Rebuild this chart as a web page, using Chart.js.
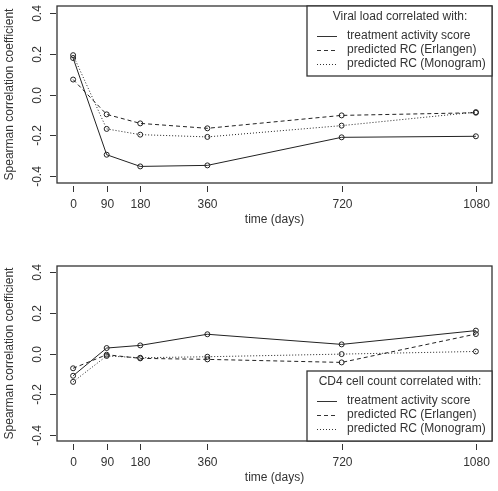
<!DOCTYPE html>
<html>
<head>
<meta charset="utf-8">
<script src="https://cdn.jsdelivr.net/npm/chart.js@4.4.1/dist/chart.umd.min.js"></script>
<style>
  html, body { margin: 0; padding: 0; background: #fff; }
  #wrap { position: relative; width: 498px; height: 491px; }
  .panel { position: absolute; left: 0; width: 498px; }
</style>
</head>
<body>
<div id="wrap">
  <div class="panel" style="top:0;height:245px"><canvas id="viral"></canvas></div>
  <div class="panel" style="top:245px;height:246px"><canvas id="cd4"></canvas></div>
</div>
<script>
// time points (days) and tick labels
const days = [0, 90, 180, 360, 720, 1080];
const yTicks = [-0.4, -0.2, 0.0, 0.2, 0.4];
const yTickLabels = ['-0.4', '-0.2', '0.0', '0.2', '0.4'];
const seriesNames = ['treatment activity score', 'predicted RC (Erlangen)', 'predicted RC (Monogram)'];

// viral load panel
const viralTas = [0.178, -0.294, -0.351, -0.346, -0.209, -0.204];
const viralErlangen = [0.073, -0.097, -0.141, -0.165, -0.102, -0.089];
const viralMonogram = [0.192, -0.168, -0.196, -0.207, -0.152, -0.086];

// CD4 panel
const cd4Tas = [-0.110, 0.027, 0.040, 0.095, 0.045, 0.113];
const cd4Erlangen = [-0.073, -0.006, -0.024, -0.029, -0.044, 0.096];
const cd4Monogram = [-0.140, -0.012, -0.021, -0.016, -0.003, 0.010];

const FONT = '12px "Liberation Sans", Arial, sans-serif';
const INK = '#333';
const dashes = [[], [4, 3], [1, 2]];

// axes, box and legend drawn R-style on top of the library scales
const rPlot = {
    id: 'rPlot',
    afterDraw(chart, args, opts) {
        const ctx = chart.ctx;
        const a = chart.chartArea;
        const xs = chart.scales.x, ys = chart.scales.y;
        ctx.save();
        ctx.strokeStyle = INK;
        ctx.fillStyle = INK;
        ctx.lineWidth = 1.3;
        ctx.setLineDash([]);
        ctx.strokeRect(a.left, a.top, a.right - a.left, a.bottom - a.top);

        ctx.font = FONT;
        ctx.lineWidth = 1;
        // x axis
        ctx.textAlign = 'center';
        ctx.textBaseline = 'middle';
        days.forEach(d => {
            const px = Math.round(xs.getPixelForValue(d)) + 0.5;
            ctx.beginPath();
            ctx.moveTo(px, a.bottom + 3);
            ctx.lineTo(px, a.bottom + 9);
            ctx.stroke();
            ctx.fillText(String(d), px, a.bottom + 22);
        });
        ctx.fillText('time (days)', (a.left + a.right) / 2, a.bottom + 37);

        // y axis with rotated labels
        yTicks.forEach((v, i) => {
            const py = Math.round(ys.getPixelForValue(v)) + 0.5;
            ctx.beginPath();
            ctx.moveTo(a.left - 1, py);
            ctx.lineTo(a.left - 7, py);
            ctx.stroke();
            ctx.save();
            ctx.translate(a.left - 19, py);
            ctx.rotate(-Math.PI / 2);
            ctx.fillText(yTickLabels[i], 0, 0);
            ctx.restore();
        });
        ctx.save();
        ctx.translate(10, (a.top + a.bottom) / 2);
        ctx.rotate(-Math.PI / 2);
        ctx.fillText('Spearman correlation coefficient', 0, 0);
        ctx.restore();

        // legend box
        const lw = 185, lh = 70;
        const lx = a.right - lw;
        const ly = opts.legendTop ? a.top : a.bottom - lh;
        ctx.fillStyle = '#fff';
        ctx.fillRect(lx, ly, lw, lh);
        ctx.lineWidth = 1.3;
        ctx.strokeRect(lx, ly, lw, lh);
        ctx.fillStyle = INK;
        ctx.textAlign = 'center';
        ctx.fillText(opts.title, lx + 93, ly + 11);
        ctx.textAlign = 'left';
        ctx.lineWidth = 1;
        seriesNames.forEach((name, i) => {
            const yy = ly + 30 + i * 14;
            ctx.setLineDash(dashes[i]);
            ctx.beginPath();
            ctx.moveTo(lx + 10, yy + 0.5);
            ctx.lineTo(lx + 30, yy + 0.5);
            ctx.stroke();
            ctx.setLineDash([]);
            ctx.fillText(name, lx + 40, yy);
        });
        ctx.restore();
    }
};

function makePanel(id, series, title, legendTop, pad) {
    const datasets = series.map((vals, i) => ({
        label: seriesNames[i],
        data: days.map((d, k) => ({ x: d, y: vals[k] })),
        borderColor: '#222',
        borderWidth: 1,
        borderDash: dashes[i],
        pointRadius: 2.5,
        pointBorderWidth: 1,
        pointBackgroundColor: 'rgba(0,0,0,0)',
        pointBorderColor: '#222',
        tension: 0,
        fill: false
    }));

    return new Chart(document.getElementById(id), {
        type: 'line',
        data: { datasets },
        options: {
            responsive: true,
            maintainAspectRatio: false,
            animation: false,
            layout: { padding: pad },
            scales: {
                x: { type: 'linear', min: -43.2, max: 1123.2, display: false },
                y: { min: -0.432, max: 0.432, display: false }
            },
            plugins: {
                legend: { display: false },
                tooltip: { enabled: false },
                rPlot: { title, legendTop }
            }
        },
        plugins: [rPlot]
    });
}

makePanel('viral', [viralTas, viralErlangen, viralMonogram],
    'Viral load correlated with:', true, { left: 57, right: 6, top: 6, bottom: 62 });
makePanel('cd4', [cd4Tas, cd4Erlangen, cd4Monogram],
    'CD4 cell count correlated with:', false, { left: 57, right: 6, top: 21, bottom: 50 });
</script>
</body>
</html>
